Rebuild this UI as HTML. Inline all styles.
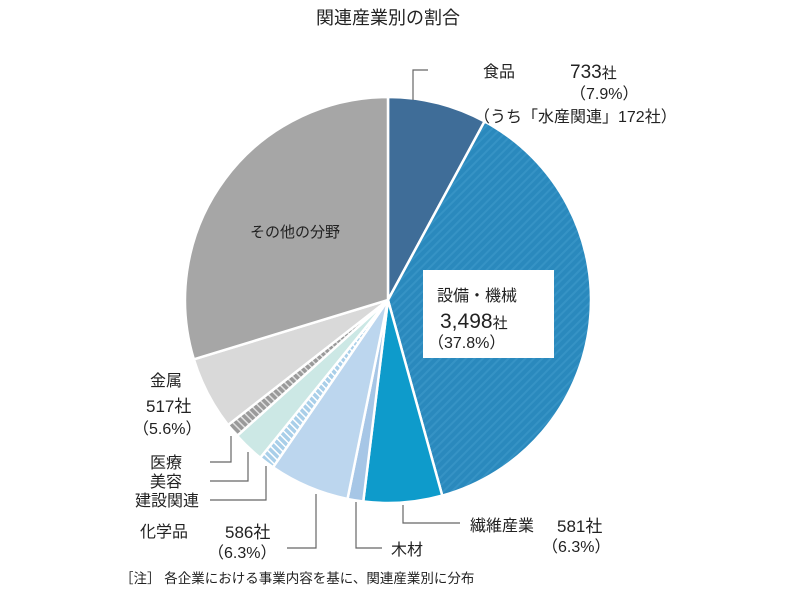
<!DOCTYPE html>
<html><head><meta charset="utf-8"><style>
html,body{margin:0;padding:0;background:#fff;}
svg{display:block;font-family:"Liberation Sans","Noto Sans CJK JP",sans-serif;fill:#222;}
</style></head><body>
<svg id="s" width="800" height="607" viewBox="0 0 800 607" xmlns="http://www.w3.org/2000/svg">
<defs>
<pattern id="hm" width="6" height="6" patternUnits="userSpaceOnUse" patternTransform="rotate(45)">
<rect width="6" height="6" fill="#2a89bd"/><rect width="2" height="6" fill="#3693c5"/></pattern>
<pattern id="hb" width="5" height="5" patternUnits="userSpaceOnUse" patternTransform="rotate(-45)">
<rect width="5" height="5" fill="#a9cfe9"/><rect width="1.5" height="5" fill="#fff"/></pattern>
<pattern id="hg" width="5" height="5" patternUnits="userSpaceOnUse" patternTransform="rotate(-45)">
<rect width="5" height="5" fill="#9a9a9a"/><rect width="1.5" height="5" fill="#e0e0e0"/></pattern>
</defs>
<g id="pie"></g>
<text x="388" y="24" font-size="18" text-anchor="middle">関連産業別の割合</text>
<g fill="none" stroke="#666" stroke-width="1.2">
<polyline points="428,70 413,70 413,100"/>
<polyline points="210,462 231,462 231,436"/>
<polyline points="210,481 248,481 248,452"/>
<polyline points="210,500 266,500 266,466"/>
<polyline points="287,548 316,548 316,494"/>
<polyline points="356,502 356,548 382,548"/>
<polyline points="403,505 403,523 460,523"/>
</g>
<g font-size="16">
<text x="483" y="77">食品</text>
<text x="570" y="78" font-size="19">733<tspan font-size="15">社</tspan></text>
<text x="570" y="99">（7.9%）</text>
<text x="474" y="122">（うち「水産関連」172社）</text>
<rect x="423" y="270" width="131" height="88" fill="#fff"/>
<text x="437" y="301">設備・機械</text>
<text x="440" y="328" font-size="21">3,498<tspan font-size="15">社</tspan></text>
<text x="428" y="348">（37.8%）</text>
<text x="250" y="237" font-size="15">その他の分野</text>
<text x="150" y="386">金属</text>
<text x="146" y="412" font-size="17">517社</text>
<text x="133" y="434">（5.6%）</text>
<text x="150" y="468">医療</text>
<text x="150" y="487">美容</text>
<text x="135" y="506">建設関連</text>
<text x="140" y="537">化学品</text>
<text x="225" y="538" font-size="17">586社</text>
<text x="208" y="558">（6.3%）</text>
<text x="391" y="555">木材</text>
<text x="470" y="531">繊維産業</text>
<text x="557" y="532" font-size="17">581社</text>
<text x="542" y="552">（6.3%）</text>
<text x="120" y="583" font-size="13.5">［注］ 各企業における事業内容を基に、関連産業別に分布</text>
</g>
</svg>
<script>
var cx=388,cy=300,r=203;
var sl=[[0,28.4,"#3f6d98"],[28.4,164.5,"url(#hm)"],[164.5,187,"#0e9bcb"],[187,191.5,"#a6c6e6"],[191.5,214.5,"#bcd6ee"],[214.5,219,"url(#hb)"],[219,228,"#cce8e5"],[228,232,"url(#hg)"],[232,253,"#d9d9d9"],[253,360,"#a6a6a6"]];
function pt(a){a=a*Math.PI/180;return [cx+r*Math.sin(a),cy-r*Math.cos(a)];}
var g=document.getElementById("pie"),h="";
sl.forEach(function(s){var p1=pt(s[0]),p2=pt(s[1]),la=(s[1]-s[0])>180?1:0;
h+='<path d="M'+cx+','+cy+' L'+p1[0].toFixed(2)+','+p1[1].toFixed(2)+' A'+r+','+r+' 0 '+la+' 1 '+p2[0].toFixed(2)+','+p2[1].toFixed(2)+' Z" fill="'+s[2]+'" stroke="#fff" stroke-width="2.5" stroke-linejoin="round"/>';});
g.innerHTML=h;
</script>
</body></html>
